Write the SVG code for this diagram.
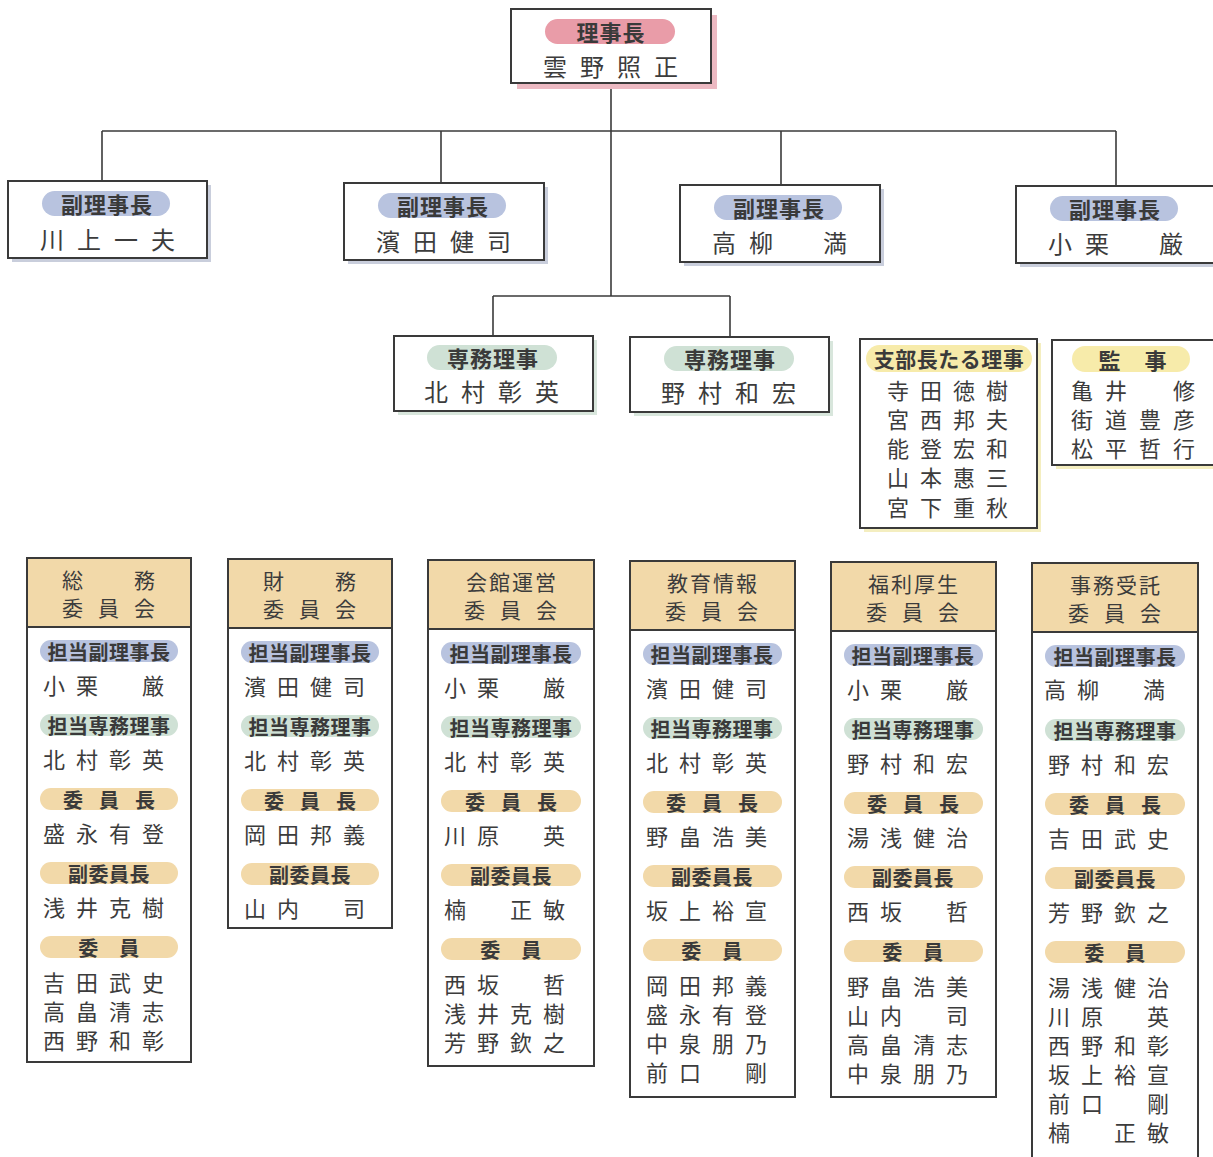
<svg xmlns="http://www.w3.org/2000/svg" width="1213" height="1157" viewBox="0 0 1213 1157">
<style>
.bg{fill:#fff}
.box{fill:#fff;stroke:#3a3a3a;stroke-width:2}
.ln{stroke:#3a3a3a;stroke-width:1.6;fill:none}
.t{font-family:"Noto Sans CJK JP","Noto Sans CJK SC",sans-serif;fill:#3c3c3c;dominant-baseline:central}
.pl{font-size:20px;text-anchor:middle;font-weight:bold;fill:#3a3a3a;letter-spacing:0.5px}
.pt{font-size:22px;letter-spacing:1px}
.nm{font-size:24px;letter-spacing:13px}
.cn{font-size:22px;letter-spacing:11px}
.hd{font-size:21px;text-anchor:middle}
.cm{letter-spacing:16px}
.pink{fill:#e99ca8}.pinks{fill:#ecb9c2}
.blue{fill:#b8c3df}.blues{fill:#c9cedc}
.green{fill:#cfe1d5}.greens{fill:#d8e6dc}
.yel{fill:#f7ebaa}.yels{fill:#f4eec0}
.tan{fill:#f2d9a9}
</style>
<rect class="bg" width="1213" height="1157"/>

<g id="connectors">
<line class="ln" x1="611" y1="83" x2="611" y2="296"/>
<line class="ln" x1="102" y1="131" x2="1116" y2="131"/>
<line class="ln" x1="102" y1="131" x2="102" y2="182"/>
<line class="ln" x1="441" y1="131" x2="441" y2="184"/>
<line class="ln" x1="781" y1="131" x2="781" y2="185"/>
<line class="ln" x1="1116" y1="131" x2="1116" y2="186"/>
<line class="ln" x1="493" y1="296" x2="730" y2="296"/>
<line class="ln" x1="493" y1="296" x2="493" y2="336"/>
<line class="ln" x1="730" y1="296" x2="730" y2="337"/>
</g>

<g id="chair">
<rect class="pinks" x="517" y="15" width="200" height="74"/>
<rect class="box" x="511" y="9" width="200" height="74"/>
<rect class="pink" x="545" y="19" width="130" height="25" rx="12.5"/>
<text class="t pl pt" x="611" y="31">理事長</text>
<text class="t nm" x="543" y="65">雲野照正</text>
</g>

<g id="vice1">
<rect class="blues" x="12" y="185" width="199" height="77"/>
<rect class="box" x="8" y="181" width="199" height="77"/>
<rect class="blue" x="42" y="191" width="128" height="25" rx="12.5"/>
<text class="t pl pt" x="107" y="203">副理事長</text>
<text class="t nm" x="40" y="238">川上一夫</text>
</g>
<g id="vice2">
<rect class="blues" x="348" y="187" width="200" height="77"/>
<rect class="box" x="344" y="183" width="200" height="77"/>
<rect class="blue" x="378" y="193" width="128" height="25" rx="12.5"/>
<text class="t pl pt" x="443" y="205">副理事長</text>
<text class="t nm" x="376" y="240">濱田健司</text>
</g>
<g id="vice3">
<rect class="blues" x="684" y="189" width="200" height="77"/>
<rect class="box" x="680" y="185" width="200" height="77"/>
<rect class="blue" x="714" y="195" width="128" height="25" rx="12.5"/>
<text class="t pl pt" x="779" y="207">副理事長</text>
<text class="t nm" x="712" y="241">高柳　満</text>
</g>
<g id="vice4">
<rect class="blues" x="1020" y="190" width="200" height="77"/>
<rect class="box" x="1016" y="186" width="200" height="77"/>
<rect class="blue" x="1050" y="196" width="128" height="25" rx="12.5"/>
<text class="t pl pt" x="1115" y="208">副理事長</text>
<text class="t nm" x="1048" y="242">小栗　厳</text>
</g>

<g id="exec1">
<rect class="greens" x="398" y="340" width="199" height="75"/>
<rect class="box" x="394" y="336" width="199" height="75"/>
<rect class="green" x="427" y="345" width="130" height="25" rx="12.5"/>
<text class="t pl pt" x="493" y="357">専務理事</text>
<text class="t nm" x="424" y="390">北村彰英</text>
</g>
<g id="exec2">
<rect class="greens" x="634" y="341" width="199" height="75"/>
<rect class="box" x="630" y="337" width="199" height="75"/>
<rect class="green" x="664" y="346" width="130" height="25" rx="12.5"/>
<text class="t pl pt" x="730" y="358">専務理事</text>
<text class="t nm" x="661" y="391">野村和宏</text>
</g>

<g id="branch">
<rect class="yels" x="864" y="343" width="177" height="189"/>
<rect class="box" x="860" y="339" width="177" height="189"/>
<rect class="yel" x="866" y="345" width="166" height="27" rx="13.5"/>
<text class="t pl" x="949" y="358" style="font-size:21px">支部長たる理事</text>
<text class="t cn" x="887" y="389">寺田徳樹</text>
<text class="t cn" x="887" y="418">宮西邦夫</text>
<text class="t cn" x="887" y="447">能登宏和</text>
<text class="t cn" x="887" y="476">山本惠三</text>
<text class="t cn" x="887" y="506">宮下重秋</text>
</g>

<g id="auditor">
<rect class="yels" x="1056" y="344" width="170" height="125"/>
<rect class="box" x="1052" y="340" width="170" height="125"/>
<rect class="yel" x="1072" y="346" width="118" height="26" rx="13"/>
<text class="t pl pt" x="1133" y="359">監　事</text>
<text class="t cn" x="1071" y="389" style="letter-spacing:12px">亀井　修</text>
<text class="t cn" x="1071" y="418" style="letter-spacing:12px">街道豊彦</text>
<text class="t cn" x="1071" y="447" style="letter-spacing:12px">松平哲行</text>
</g>

<g id="com1" transform="translate(27,0)">
<rect class="box" x="0" y="558" width="164" height="504"/>
<rect class="tan" x="1" y="559" width="162" height="68"/>
<line class="ln" x1="0" y1="627" x2="164" y2="627" style="stroke-width:2"/>
<text class="t hd" x="83" y="579" style="letter-spacing:3px">総　　務</text>
<text class="t hd" x="89" y="607" style="letter-spacing:15px">委員会</text>
<rect class="blue" x="13" y="640" width="138" height="22" rx="11"/>
<text class="t pl" x="82" y="651">担当副理事長</text>
<text class="t cn" x="16" y="684">小栗　厳</text>
<rect class="green" x="13" y="714" width="138" height="22" rx="11"/>
<text class="t pl" x="82" y="725">担当専務理事</text>
<text class="t cn" x="16" y="758">北村彰英</text>
<rect class="tan" x="13" y="788" width="138" height="22" rx="11"/>
<text class="t pl cm" x="90" y="799">委員長</text>
<text class="t cn" x="16" y="832">盛永有登</text>
<rect class="tan" x="13" y="862" width="138" height="22" rx="11"/>
<text class="t pl" x="82" y="873">副委員長</text>
<text class="t cn" x="16" y="906">浅井克樹</text>
<rect class="tan" x="13" y="936" width="138" height="22" rx="11"/>
<text class="t pl" x="82" y="947">委　員</text>
<text class="t cn" x="16" y="981">吉田武史</text>
<text class="t cn" x="16" y="1010">高畠清志</text>
<text class="t cn" x="16" y="1039">西野和彰</text>
</g>

<g id="com2" transform="translate(228,1)">
<rect class="box" x="0" y="558" width="164" height="369"/>
<rect class="tan" x="1" y="559" width="162" height="68"/>
<line class="ln" x1="0" y1="627" x2="164" y2="627" style="stroke-width:2"/>
<text class="t hd" x="83" y="579" style="letter-spacing:3px">財　　務</text>
<text class="t hd" x="89" y="607" style="letter-spacing:15px">委員会</text>
<rect class="blue" x="13" y="640" width="138" height="22" rx="11"/>
<text class="t pl" x="82" y="651">担当副理事長</text>
<text class="t cn" x="16" y="684">濱田健司</text>
<rect class="green" x="13" y="714" width="138" height="22" rx="11"/>
<text class="t pl" x="82" y="725">担当専務理事</text>
<text class="t cn" x="16" y="758">北村彰英</text>
<rect class="tan" x="13" y="788" width="138" height="22" rx="11"/>
<text class="t pl cm" x="90" y="799">委員長</text>
<text class="t cn" x="16" y="832">岡田邦義</text>
<rect class="tan" x="13" y="862" width="138" height="22" rx="11"/>
<text class="t pl" x="82" y="873">副委員長</text>
<text class="t cn" x="16" y="906">山内　司</text>
</g>

<g id="com3" transform="translate(428,2)">
<rect class="box" x="0" y="558" width="166" height="506"/>
<rect class="tan" x="1" y="559" width="164" height="68"/>
<line class="ln" x1="0" y1="627" x2="166" y2="627" style="stroke-width:2"/>
<text class="t hd" x="84" y="579" style="letter-spacing:2px">会館運営</text>
<text class="t hd" x="90" y="607" style="letter-spacing:15px">委員会</text>
<rect class="blue" x="13" y="640" width="140" height="22" rx="11"/>
<text class="t pl" x="83" y="651">担当副理事長</text>
<text class="t cn" x="16" y="684">小栗　厳</text>
<rect class="green" x="13" y="714" width="140" height="22" rx="11"/>
<text class="t pl" x="83" y="725">担当専務理事</text>
<text class="t cn" x="16" y="758">北村彰英</text>
<rect class="tan" x="13" y="788" width="140" height="22" rx="11"/>
<text class="t pl cm" x="91" y="799">委員長</text>
<text class="t cn" x="16" y="832">川原　英</text>
<rect class="tan" x="13" y="862" width="140" height="22" rx="11"/>
<text class="t pl" x="83" y="873">副委員長</text>
<text class="t cn" x="16" y="906">楠　正敏</text>
<rect class="tan" x="13" y="936" width="140" height="22" rx="11"/>
<text class="t pl" x="83" y="947">委　員</text>
<text class="t cn" x="16" y="981">西坂　哲</text>
<text class="t cn" x="16" y="1010">浅井克樹</text>
<text class="t cn" x="16" y="1039">芳野欽之</text>
</g>

<g id="com4" transform="translate(630,3)">
<rect class="box" x="0" y="558" width="165" height="536"/>
<rect class="tan" x="1" y="559" width="163" height="68"/>
<line class="ln" x1="0" y1="627" x2="165" y2="627" style="stroke-width:2"/>
<text class="t hd" x="83" y="579" style="letter-spacing:2px">教育情報</text>
<text class="t hd" x="89" y="607" style="letter-spacing:15px">委員会</text>
<rect class="blue" x="13" y="640" width="139" height="22" rx="11"/>
<text class="t pl" x="82" y="651">担当副理事長</text>
<text class="t cn" x="16" y="684">濱田健司</text>
<rect class="green" x="13" y="714" width="139" height="22" rx="11"/>
<text class="t pl" x="82" y="725">担当専務理事</text>
<text class="t cn" x="16" y="758">北村彰英</text>
<rect class="tan" x="13" y="788" width="139" height="22" rx="11"/>
<text class="t pl cm" x="90" y="799">委員長</text>
<text class="t cn" x="16" y="832">野畠浩美</text>
<rect class="tan" x="13" y="862" width="139" height="22" rx="11"/>
<text class="t pl" x="82" y="873">副委員長</text>
<text class="t cn" x="16" y="906">坂上裕宣</text>
<rect class="tan" x="13" y="936" width="139" height="22" rx="11"/>
<text class="t pl" x="82" y="947">委　員</text>
<text class="t cn" x="16" y="981">岡田邦義</text>
<text class="t cn" x="16" y="1010">盛永有登</text>
<text class="t cn" x="16" y="1039">中泉朋乃</text>
<text class="t cn" x="16" y="1068">前口　剛</text>
</g>

<g id="com5" transform="translate(831,4)">
<rect class="box" x="0" y="558" width="165" height="535"/>
<rect class="tan" x="1" y="559" width="163" height="68"/>
<line class="ln" x1="0" y1="627" x2="165" y2="627" style="stroke-width:2"/>
<text class="t hd" x="83" y="579" style="letter-spacing:2px">福利厚生</text>
<text class="t hd" x="89" y="607" style="letter-spacing:15px">委員会</text>
<rect class="blue" x="13" y="640" width="139" height="22" rx="11"/>
<text class="t pl" x="82" y="651">担当副理事長</text>
<text class="t cn" x="16" y="684">小栗　厳</text>
<rect class="green" x="13" y="714" width="139" height="22" rx="11"/>
<text class="t pl" x="82" y="725">担当専務理事</text>
<text class="t cn" x="16" y="758">野村和宏</text>
<rect class="tan" x="13" y="788" width="139" height="22" rx="11"/>
<text class="t pl cm" x="90" y="799">委員長</text>
<text class="t cn" x="16" y="832">湯浅健治</text>
<rect class="tan" x="13" y="862" width="139" height="22" rx="11"/>
<text class="t pl" x="82" y="873">副委員長</text>
<text class="t cn" x="16" y="906">西坂　哲</text>
<rect class="tan" x="13" y="936" width="139" height="22" rx="11"/>
<text class="t pl" x="82" y="947">委　員</text>
<text class="t cn" x="16" y="981">野畠浩美</text>
<text class="t cn" x="16" y="1010">山内　司</text>
<text class="t cn" x="16" y="1039">高畠清志</text>
<text class="t cn" x="16" y="1068">中泉朋乃</text>
</g>

<g id="com6" transform="translate(1032,5)">
<rect class="box" x="0" y="558" width="166" height="610"/>
<rect class="tan" x="1" y="559" width="164" height="68"/>
<line class="ln" x1="0" y1="627" x2="166" y2="627" style="stroke-width:2"/>
<text class="t hd" x="84" y="579" style="letter-spacing:2px">事務受託</text>
<text class="t hd" x="90" y="607" style="letter-spacing:15px">委員会</text>
<rect class="blue" x="13" y="640" width="140" height="22" rx="11"/>
<text class="t pl" x="83" y="651">担当副理事長</text>
<text class="t cn" x="12" y="683">高柳　満</text>
<rect class="green" x="13" y="714" width="140" height="22" rx="11"/>
<text class="t pl" x="83" y="725">担当専務理事</text>
<text class="t cn" x="16" y="758">野村和宏</text>
<rect class="tan" x="13" y="788" width="140" height="22" rx="11"/>
<text class="t pl cm" x="91" y="799">委員長</text>
<text class="t cn" x="16" y="832">吉田武史</text>
<rect class="tan" x="13" y="862" width="140" height="22" rx="11"/>
<text class="t pl" x="83" y="873">副委員長</text>
<text class="t cn" x="16" y="906">芳野欽之</text>
<rect class="tan" x="13" y="936" width="140" height="22" rx="11"/>
<text class="t pl" x="83" y="947">委　員</text>
<text class="t cn" x="16" y="981">湯浅健治</text>
<text class="t cn" x="16" y="1010">川原　英</text>
<text class="t cn" x="16" y="1039">西野和彰</text>
<text class="t cn" x="16" y="1068">坂上裕宣</text>
<text class="t cn" x="16" y="1097">前口　剛</text>
<text class="t cn" x="16" y="1126">楠　正敏</text>
</g>
</svg>
